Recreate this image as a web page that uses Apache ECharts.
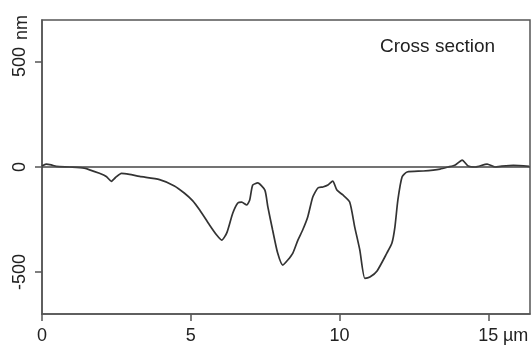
<!DOCTYPE html>
<html>
<head>
<meta charset="utf-8">
<script src="https://cdn.jsdelivr.net/npm/echarts@6/dist/echarts.min.js"></script>
<style>
  html, body { margin: 0; padding: 0; background: #fff; }
  #chart { width: 531px; height: 345px; }
</style>
</head>
<body>
<div id="chart"></div>
<script>
// profile: position (µm) and height (nm)
var positions = [0, 0.14, 0.31, 0.48, 0.92, 1.42, 1.93, 2.16, 2.33, 2.47, 2.67, 2.94, 3.28, 3.95, 4.45,
  4.79, 5.06, 5.30, 5.63, 5.87, 6.04, 6.21, 6.41, 6.58, 6.71, 6.88, 6.98, 7.08, 7.25, 7.49,
  7.59, 7.75, 7.92, 8.09, 8.26, 8.43, 8.60, 8.76, 8.93, 9.10, 9.27, 9.44, 9.61, 9.77, 9.91,
  10.11, 10.34, 10.51, 10.68, 10.85, 11.02, 11.26, 11.59, 11.76, 11.86, 11.96, 12.10, 12.27, 12.81, 13.38,
  13.65, 13.89, 14.12, 14.32, 14.56, 14.96, 15.23, 15.40, 15.84, 16.37];
var heights = [5, 14, 10, 3, 0, -5, -30, -45, -68, -50, -30, -35, -45, -60, -90,
  -125, -160, -205, -276, -324, -348, -314, -220, -171, -167, -181, -157, -86, -76, -110,
  -190, -300, -410, -467, -443, -410, -348, -300, -238, -143, -100, -95, -86, -67, -110,
  -133, -167, -286, -395, -530, -524, -495, -410, -362, -286, -157, -48, -24, -19, -10,
  0, 10, 33, 5, 0, 14, 0, 3, 8, 3];
var xTicks = [0, 5, 10, 15];
var yTicks = [-500, 0, 500];

var chart = echarts.init(document.getElementById('chart'));
var ink = '#333';
var frame = '#555';
var font = 'Liberation Sans, Arial, sans-serif';

var option = {
  animation: false,
  grid: { left: 42, right: 1, top: 20, bottom: 31, show: true, borderColor: frame, borderWidth: 1.5 },
  xAxis: {
    type: 'value', min: 0, max: 16.4,
    axisLine: { show: true, onZero: false, lineStyle: { color: frame, width: 1.5 } },
    axisTick: { show: true, length: 7, customValues: xTicks, lineStyle: { color: frame, width: 1.5 } },
    axisLabel: { customValues: xTicks, color: '#222', fontSize: 18, fontFamily: font, margin: 13 },
    splitLine: { show: false }
  },
  yAxis: {
    type: 'value', min: -700, max: 700,
    axisLine: { show: true, lineStyle: { color: frame, width: 1.5 } },
    axisTick: { show: true, length: 7, customValues: yTicks, lineStyle: { color: frame, width: 1.5 } },
    axisLabel: { customValues: yTicks, rotate: 90, color: '#222', fontSize: 18, fontFamily: font, margin: 13 },
    splitLine: { show: false }
  },
  graphic: [
    { type: 'text', left: 380, top: 37, style: { text: 'Cross section', fill: '#222', font: '19px ' + font } },
    { type: 'text', x: 13, y: 40, rotation: Math.PI / 2, style: { text: 'nm', fill: '#222', font: '18px ' + font } },
    { type: 'text', left: 503, top: 327, style: { text: 'µm', fill: '#222', font: '18px ' + font } }
  ],
  series: [{
    type: 'line',
    data: positions.map(function (x, i) { return [x, heights[i]]; }),
    showSymbol: false,
    smooth: 0.2,
    lineStyle: { color: ink, width: 1.7 },
    markLine: {
      silent: true, symbol: 'none', label: { show: false },
      lineStyle: { color: '#444', width: 1.5, type: 'solid' },
      data: [{ yAxis: 0 }]
    }
  }]
};
chart.setOption(option);
</script>
</body>
</html>
